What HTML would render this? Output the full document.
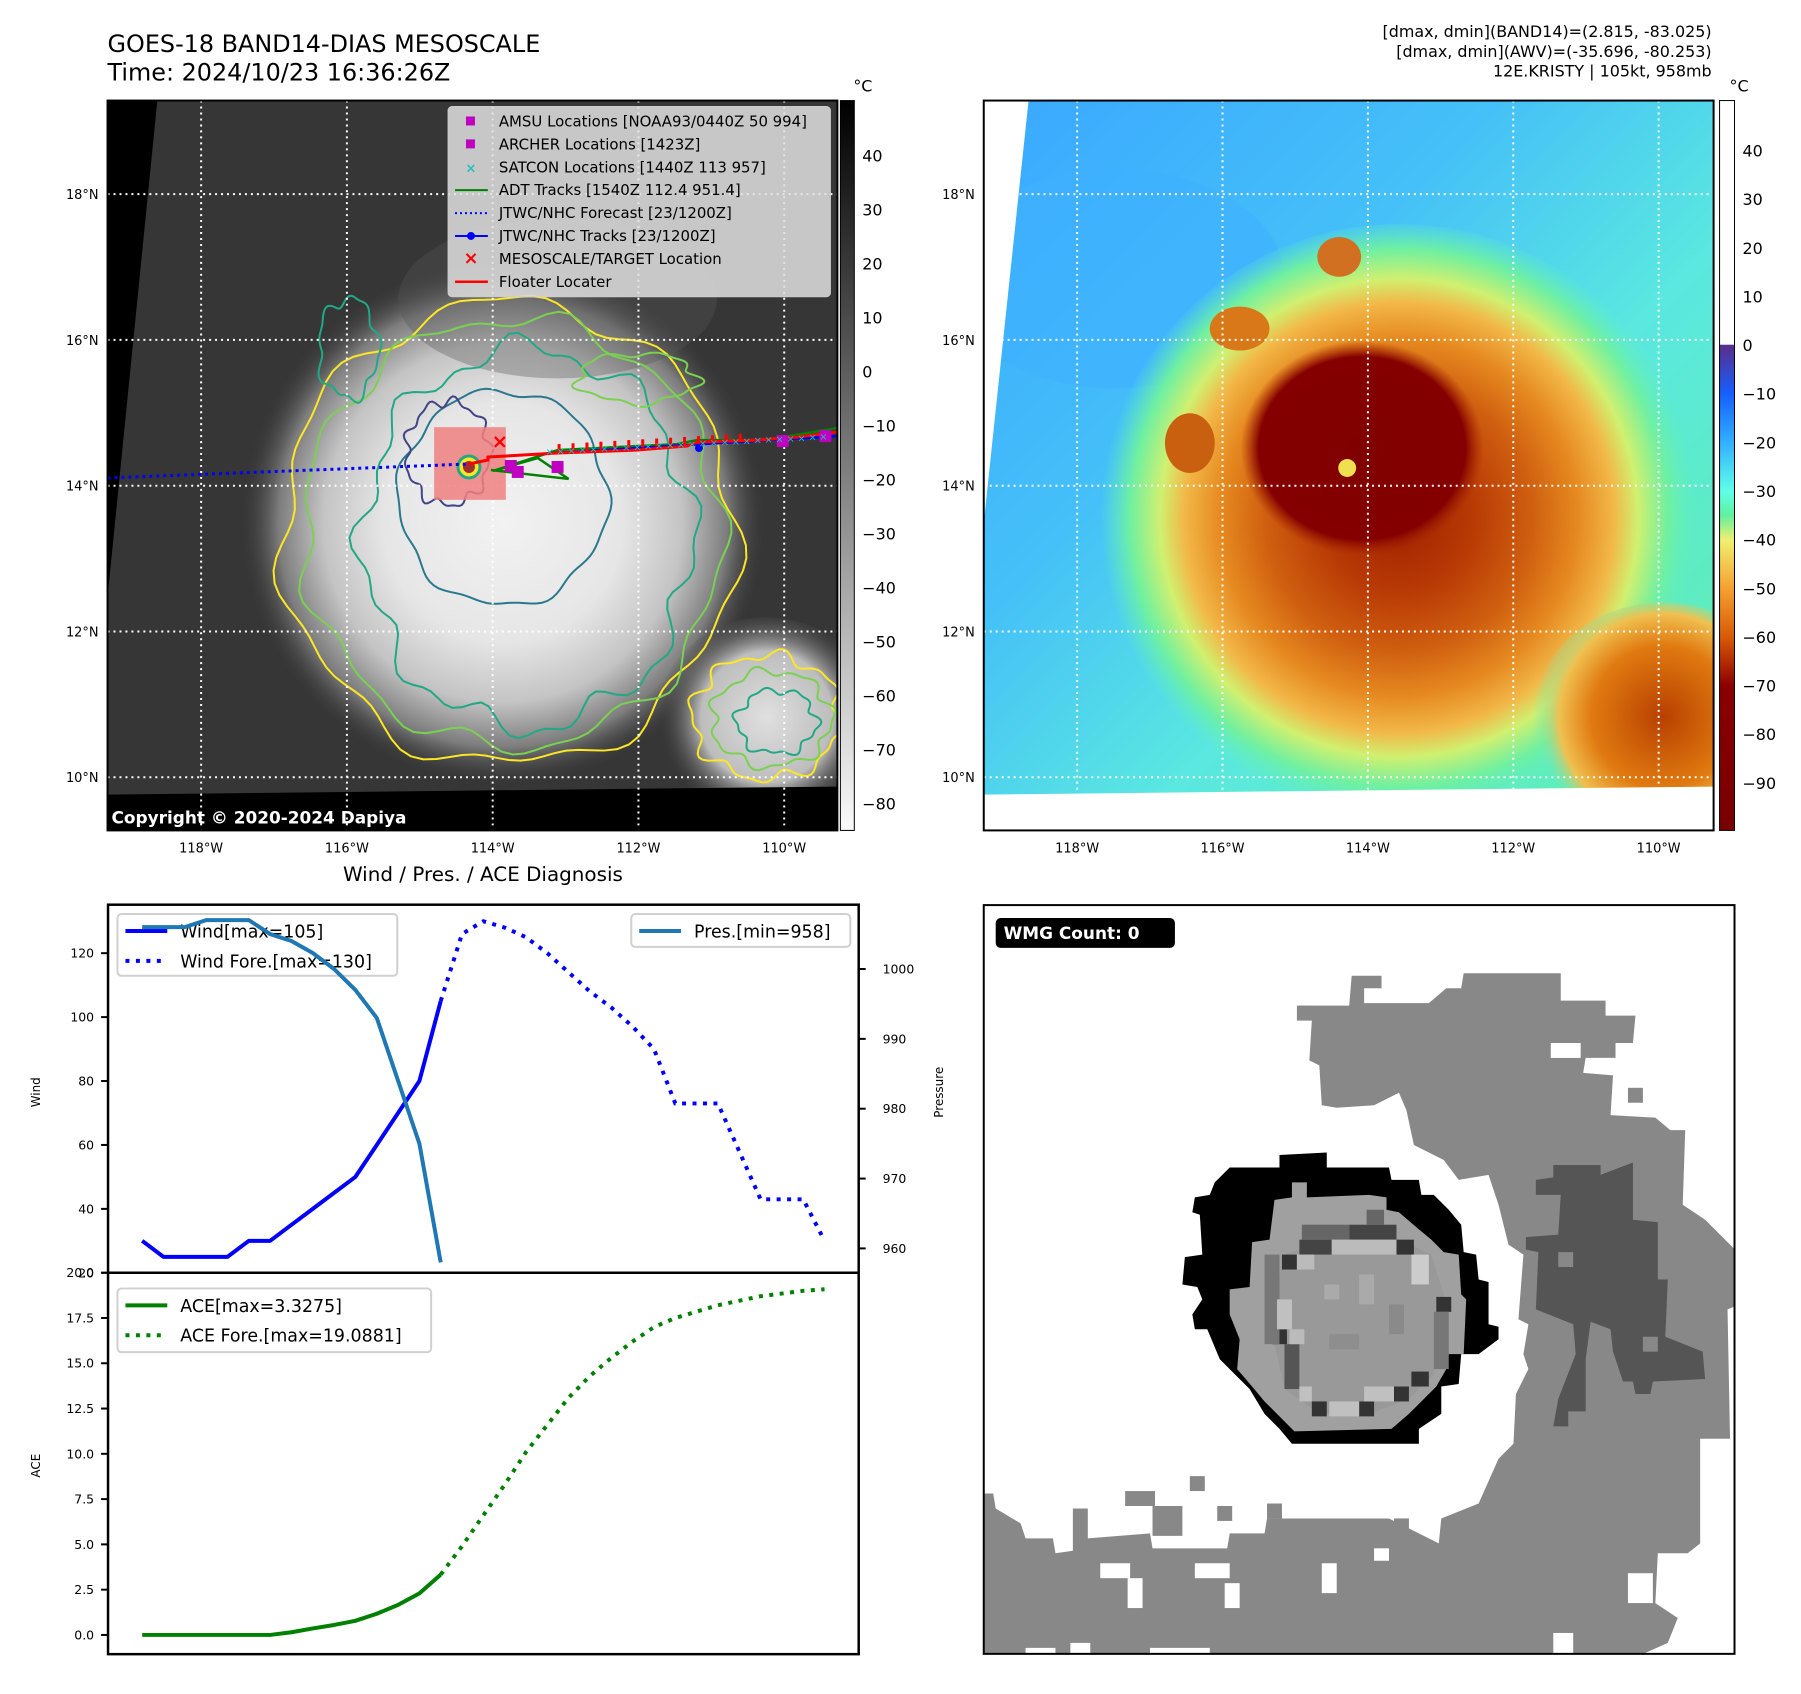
<!DOCTYPE html>
<html><head><meta charset="utf-8">
<style>
html,body{margin:0;padding:0;background:#fff;}
body{width:1801px;height:1690px;overflow:hidden;font-family:"DejaVu Sans","Liberation Sans",sans-serif;}
svg text{font-family:"DejaVu Sans","Liberation Sans",sans-serif;}
</style></head>
<body>
<svg id="fig" width="1801" height="1690" viewBox="0 0 1801 1690" xmlns="http://www.w3.org/2000/svg">
<defs>
  <clipPath id="clipL"><rect x="108" y="101" width="733" height="733"/></clipPath>
  <clipPath id="clipR"><rect x="988" y="101" width="733" height="733"/></clipPath>
  <clipPath id="clipW"><rect x="988" y="909" width="754" height="752"/></clipPath>
  <radialGradient id="gStorm" cx="505" cy="525" r="265" gradientUnits="userSpaceOnUse">
    <stop offset="0" stop-color="#f2f2f2"/><stop offset="0.45" stop-color="#e6e6e6"/>
    <stop offset="0.68" stop-color="#c4c4c4"/><stop offset="0.85" stop-color="#7d7d7d"/>
    <stop offset="1" stop-color="#363636" stop-opacity="0"/>
  </radialGradient>
  <radialGradient id="gBlobL" cx="770" cy="720" r="110" gradientUnits="userSpaceOnUse">
    <stop offset="0" stop-color="#e0e0e0"/><stop offset="0.6" stop-color="#bdbdbd"/>
    <stop offset="1" stop-color="#363636" stop-opacity="0"/>
  </radialGradient>
  <linearGradient id="gBgR" x1="0" y1="0" x2="1" y2="1">
    <stop offset="0" stop-color="#3aa8ff"/><stop offset="0.35" stop-color="#45c0f8"/>
    <stop offset="0.6" stop-color="#5ae8e0"/><stop offset="1" stop-color="#60f0a8"/>
  </linearGradient>
  <radialGradient id="gStormR" cx="1405" cy="520" r="300" gradientUnits="userSpaceOnUse">
    <stop offset="0" stop-color="#a02000"/><stop offset="0.25" stop-color="#b83a05"/>
    <stop offset="0.45" stop-color="#d06010"/><stop offset="0.6" stop-color="#e68a20"/>
    <stop offset="0.72" stop-color="#f2b848"/><stop offset="0.8" stop-color="#d0f070"/>
    <stop offset="0.9" stop-color="#70f0a0"/><stop offset="1" stop-color="#60f0c0" stop-opacity="0"/>
  </radialGradient>
  <radialGradient id="gCoreR" cx="0.5" cy="0.5" r="0.5">
    <stop offset="0" stop-color="#800000"/><stop offset="0.85" stop-color="#840000"/>
    <stop offset="1" stop-color="#a02000" stop-opacity="0"/>
  </radialGradient>
  <radialGradient id="gBlobR" cx="1670" cy="720" r="130" gradientUnits="userSpaceOnUse">
    <stop offset="0" stop-color="#b84000"/><stop offset="0.55" stop-color="#e07a10"/>
    <stop offset="0.8" stop-color="#f0c050"/><stop offset="1" stop-color="#60f0c0" stop-opacity="0"/>
  </radialGradient>
  <linearGradient id="cbL" x1="0" y1="0" x2="0" y2="1">
    <stop offset="0" stop-color="#000"/><stop offset="1" stop-color="#fafafa"/>
  </linearGradient>
  <linearGradient id="cbR" x1="0" y1="0" x2="0" y2="1">
    <stop offset="0" stop-color="#fff"/><stop offset="0.334" stop-color="#fff"/>
    <stop offset="0.335" stop-color="#5a2d8a"/><stop offset="0.402" stop-color="#1560ff"/>
    <stop offset="0.469" stop-color="#33b0ff"/><stop offset="0.535" stop-color="#60ffe8"/>
    <stop offset="0.568" stop-color="#60f0a0"/><stop offset="0.602" stop-color="#f0f070"/>
    <stop offset="0.669" stop-color="#f5a030"/><stop offset="0.735" stop-color="#d85a08"/>
    <stop offset="0.802" stop-color="#8b0000"/><stop offset="1" stop-color="#780000"/>
  </linearGradient>
</defs>
<g transform="scale(0.9957)">
<!-- Titles -->
<text x="108" y="52" font-size="24">GOES-18 BAND14-DIAS MESOSCALE</text>
<text x="108" y="81" font-size="24">Time: 2024/10/23 16:36:26Z</text>
<g font-size="16" text-anchor="end">
  <text x="1719" y="37">[dmax, dmin](BAND14)=(2.815, -83.025)</text>
  <text x="1719" y="57">[dmax, dmin](AWV)=(-35.696, -80.253)</text>
  <text x="1719" y="77">12E.KRISTY | 105kt, 958mb</text>
</g>

<!-- LEFT MAP -->
<g id="mapL" clip-path="url(#clipL)">
  <rect x="108" y="101" width="733" height="733" fill="#363636"/>
  <ellipse cx="505" cy="525" rx="265" ry="265" fill="url(#gStorm)"/>
  <ellipse cx="770" cy="720" rx="110" ry="100" fill="url(#gBlobL)"/>
  <ellipse cx="560" cy="300" rx="160" ry="80" fill="#555" opacity="0.35"/>
  <g id="contoursL" fill="none" stroke-width="2"></g>
  <polygon points="108,101 158,101 108,600" fill="#000"/>
  <polygon points="108,798 841,790 841,834 108,834" fill="#000"/>
</g>
<g id="gridL"></g>
<g id="tracks"></g>
<text x="112" y="827" font-size="17" font-weight="bold" fill="#fff">Copyright © 2020-2024 Dapiya</text>
<rect x="108" y="101" width="733" height="733" fill="none" stroke="#000" stroke-width="2"/>

<!-- map legend -->
<g>
  <rect x="450" y="107" width="384" height="191" rx="4" fill="#e0e0e0" fill-opacity="0.85" stroke="#ccc"/>
  <g font-size="15" fill="#000">
    <rect x="468" y="117" width="9" height="9" fill="#c000c0"/><text x="501" y="127">AMSU Locations [NOAA93/0440Z 50 994]</text>
    <rect x="468" y="140" width="9" height="9" fill="#c000c0"/><text x="501" y="150">ARCHER Locations [1423Z]</text>
    <text x="473" y="173" font-size="13" fill="#20c0c0" text-anchor="middle" font-weight="bold">×</text><text x="501" y="173">SATCON Locations [1440Z 113 957]</text>
    <line x1="457" y1="191" x2="490" y2="191" stroke="#008000" stroke-width="2"/><text x="501" y="196">ADT Tracks [1540Z 112.4 951.4]</text>
    <line x1="457" y1="214" x2="490" y2="214" stroke="#0000ff" stroke-width="2" stroke-dasharray="2,3"/><text x="501" y="219">JTWC/NHC Forecast [23/1200Z]</text>
    <line x1="457" y1="237" x2="490" y2="237" stroke="#0000ff" stroke-width="2"/><circle cx="473" cy="237" r="4" fill="#0000ff"/><text x="501" y="242">JTWC/NHC Tracks [23/1200Z]</text>
    <text x="473" y="265" font-size="18" fill="#ff0000" text-anchor="middle" font-weight="bold">×</text><text x="501" y="265">MESOSCALE/TARGET Location</text>
    <line x1="457" y1="283" x2="490" y2="283" stroke="#ff0000" stroke-width="2.5"/><text x="501" y="288">Floater Locater</text>
  </g>
</g>

<!-- left colorbar -->
<rect x="844" y="101" width="14" height="733" fill="url(#cbL)" stroke="#000" stroke-width="1"/>
<text x="857" y="92" font-size="16">°C</text>
<g id="cbLlabels" font-size="16"></g>

<!-- RIGHT MAP -->
<g clip-path="url(#clipR)">
  <rect x="988" y="101" width="733" height="733" fill="url(#gBgR)"/>
  <ellipse cx="1120" cy="280" rx="170" ry="110" fill="#3fb0ff" opacity="0.6"/>
  <ellipse cx="1405" cy="520" rx="300" ry="295" fill="url(#gStormR)"/>
  <ellipse cx="1368" cy="450" rx="122" ry="108" fill="url(#gCoreR)"/>
  <ellipse cx="1670" cy="720" rx="130" ry="115" fill="url(#gBlobR)"/>
  <ellipse cx="1345" cy="258" rx="22" ry="20" fill="#d07020"/>
  <ellipse cx="1245" cy="330" rx="30" ry="22" fill="#d87818"/>
  <ellipse cx="1195" cy="445" rx="25" ry="30" fill="#c86010"/>
  <circle cx="1353" cy="470" r="9" fill="#f0e050"/>
  <polygon points="988,101 1033,101 988,525" fill="#fff"/>
  <polygon points="988,798 1721,790 1721,834 988,834" fill="#fff"/>
</g>
<g id="gridR"></g>
<rect x="988" y="101" width="733" height="733" fill="none" stroke="#000" stroke-width="2"/>
<rect x="1727" y="101" width="15" height="733" fill="url(#cbR)" stroke="#000" stroke-width="1"/>
<text x="1737" y="92" font-size="16">°C</text>
<g id="cbRlabels" font-size="16"></g>
<g id="latlon" font-size="13"></g>

<!-- WIND / PRES / ACE CHART -->
<text x="485" y="885" font-size="20" text-anchor="middle">Wind / Pres. / ACE Diagnosis</text>
<g id="chart"></g>

<!-- WMG panel -->
<g clip-path="url(#clipW)">
  <rect x="988" y="909" width="754" height="752" fill="#fff"/>
  <g transform="translate(985,900) scale(0.5)">
    <polygon fill="#888" points="640,220 740,220 745,160 805,160 805,185 770,185 770,215 900,215 935,185 965,185 970,155 1165,155 1165,210 1255,210 1255,240 1315,240 1310,295 1275,295 1275,325 1215,325 1210,355 1270,360 1265,440 1355,445 1385,470 1415,470 1410,620 1455,650 1515,710 1525,820 1500,830 1505,1090 1445,1090 1445,1300 1420,1320 1360,1320 1355,1420 1400,1450 1380,1500 1290,1540 0,1540 0,1200 25,1200 30,1230 80,1260 90,1290 145,1290 150,1320 185,1315 185,1230 215,1230 215,1290 340,1280 345,1310 495,1310 500,1280 570,1280 575,1250 820,1250 920,1300 925,1250 1000,1220 1040,1130 1070,1100 1075,1000 1100,950 1090,920 1100,860 1080,850 1090,720 1060,700 1040,620 1020,560 960,570 930,530 870,500 855,430 840,395 790,420 715,425 685,420 680,340 660,330 665,250 640,245"/>
    <g fill="#fff">
      <rect x="240" y="1340" width="60" height="30"/><rect x="295" y="1370" width="30" height="60"/>
      <rect x="430" y="1340" width="70" height="30"/><rect x="490" y="1380" width="30" height="50"/>
      <rect x="685" y="1340" width="30" height="60"/><rect x="790" y="1310" width="30" height="25"/>
      <rect x="1150" y="1480" width="40" height="60"/><rect x="1300" y="1360" width="50" height="60"/>
      <rect x="1145" y="295" width="60" height="30"/><rect x="180" y="1500" width="40" height="40"/>
      <rect x="90" y="1510" width="60" height="30"/><rect x="340" y="1510" width="120" height="30"/>
    </g>
    <g fill="#888">
      <rect x="635" y="220" width="30" height="30"/><rect x="1300" y="385" width="30" height="30"/>
      <rect x="420" y="1165" width="30" height="30"/><rect x="475" y="1225" width="30" height="30"/>
      <rect x="575" y="1220" width="30" height="30"/><rect x="830" y="1250" width="30" height="30"/>
      <rect x="290" y="1195" width="60" height="30"/><rect x="345" y="1225" width="60" height="60"/>
    </g>
    <polygon fill="#555" points="1150,540 1245,540 1245,560 1310,535 1310,650 1360,655 1360,770 1380,770 1375,885 1450,915 1455,970 1350,975 1345,1000 1315,1000 1310,975 1290,975 1270,915 1265,870 1225,855 1215,930 1215,1035 1180,1035 1180,1065 1150,1065 1160,1010 1195,920 1190,860 1115,830 1120,715 1095,710 1095,685 1160,680 1165,600 1115,600 1115,570 1150,565"/>
    <rect x="1160" y="715" width="30" height="30" fill="#888"/><rect x="1330" y="885" width="30" height="30" fill="#888"/>
    <polygon fill="#000" points="600,520 695,515 695,545 820,545 825,570 880,570 885,600 910,600 940,630 965,660 970,715 995,720 1000,770 1020,775 1020,860 1040,865 1040,890 1000,920 965,920 960,980 925,985 925,1040 880,1070 880,1100 625,1100 600,1070 570,1040 540,990 510,960 480,930 455,870 430,870 425,840 445,810 435,785 405,780 410,725 445,720 440,640 425,635 430,605 460,600 470,575 500,545 600,545"/>
    <polygon fill="#a0a0a0" points="625,575 655,575 655,605 780,600 815,605 815,630 840,635 875,665 905,690 930,715 960,720 965,800 975,810 970,920 940,920 935,950 915,985 890,1010 860,1040 825,1070 630,1075 600,1045 570,1015 545,985 515,950 520,890 500,840 500,790 540,785 545,695 580,690 590,610 625,605"/>
    <polygon fill="#999" points="610,720 700,690 840,690 905,720 930,800 910,960 860,1010 780,1040 680,1040 610,990 590,900 595,780"/>
    <g>
      <rect x="640" y="690" width="65" height="30" fill="#444"/><rect x="740" y="660" width="95" height="30" fill="#444"/>
      <rect x="605" y="720" width="30" height="30" fill="#333"/><rect x="585" y="870" width="30" height="30" fill="#333"/>
      <rect x="610" y="900" width="30" height="90" fill="#555"/><rect x="665" y="1015" width="30" height="30" fill="#333"/>
      <rect x="760" y="1015" width="30" height="30" fill="#333"/><rect x="830" y="985" width="30" height="30" fill="#333"/>
      <rect x="865" y="955" width="35" height="30" fill="#333"/><rect x="915" y="805" width="30" height="30" fill="#333"/>
      <rect x="835" y="690" width="35" height="30" fill="#333"/><rect x="775" y="630" width="35" height="30" fill="#666"/>
      <rect x="645" y="660" width="95" height="30" fill="#666"/><rect x="570" y="720" width="30" height="180" fill="#777"/>
      <rect x="910" y="835" width="30" height="115" fill="#777"/>
      <rect x="635" y="720" width="35" height="30" fill="#bbb"/><rect x="705" y="690" width="130" height="30" fill="#bbb"/>
      <rect x="865" y="720" width="35" height="60" fill="#ccc"/><rect x="595" y="810" width="30" height="60" fill="#c0c0c0"/>
      <rect x="640" y="985" width="25" height="30" fill="#c0c0c0"/><rect x="700" y="1015" width="60" height="30" fill="#c0c0c0"/>
      <rect x="770" y="985" width="60" height="30" fill="#c0c0c0"/><rect x="620" y="870" width="30" height="30" fill="#bbb"/>
      <rect x="690" y="780" width="30" height="30" fill="#aaa"/><rect x="760" y="760" width="30" height="60" fill="#aaa"/>
      <rect x="820" y="820" width="30" height="60" fill="#8a8a8a"/><rect x="700" y="880" width="60" height="30" fill="#8e8e8e"/>
    </g>
  </g>
</g>
<rect x="988" y="909" width="754" height="752" fill="none" stroke="#000" stroke-width="2"/>
<rect x="1000" y="922" width="180" height="30" rx="5" fill="#000"/>
<text x="1008" y="943" font-size="17" font-weight="bold" fill="#fff">WMG Count: 0</text>
</g>
</svg>

<script>
// ---- chart data ----
const windX = [0,1,2,3,4,5,6,7,8,9,10,11,12,13,14];
const windV = [30,25,25,25,25,30,30,35,40,45,50,60,70,80,105];
const windFX = [14,15,16,17,18,19,20,21,22,23,24,25,27,29,31,32];
const windFV = [105,126,130,128,125,120,114,108,103,97,90,73,73,43,43,30];
const presX = [0,1,2,3,4,5,6,7,8,9,10,11,12,13,14];
const presV = [1006,1006,1006,1007,1007,1007,1005,1004,1002.3,1000,997,993,984,975,958];
const aceX = [0,1,2,3,4,5,6,7,8,9,10,11,12,13,14];
const aceV = [0,0,0,0,0,0,0,0.15,0.36,0.55,0.78,1.17,1.66,2.3,3.33];
const aceFX = [14,15,16,17,18,19,20,21,22,23,24,25,27,29,31,32];
const aceFV = [3.33,4.9,6.6,8.3,10.1,11.6,13.1,14.3,15.3,16.2,17.0,17.5,18.2,18.7,19.0,19.09];
const windTicks = [20,40,60,80,100,120];
const presTicks = [960,970,980,990,1000];
const aceTicks = [0.0,2.5,5.0,7.5,10.0,12.5,15.0,17.5,20.0];
const cbLTicks = [40,30,20,10,0,-10,-20,-30,-40,-50,-60,-70,-80];
const cbRTicks = [40,30,20,10,0,-10,-20,-30,-40,-50,-60,-70,-80,-90];
const lonTicks = [118,116,114,112,110];
const latTicks = [18,16,14,12,10];

const NS = 'http://www.w3.org/2000/svg';
function mk(tag, attrs, parent){ const e=document.createElementNS(NS,tag); for(const k in attrs) e.setAttribute(k,attrs[k]); if(parent) parent.appendChild(e); return e; }
function txt(parent, x, y, s, attrs){ const t=mk('text',Object.assign({x:x,y:y},attrs||{}),parent); t.textContent=s; return t; }

const AX = {l:108.5, r:862.4, t:908.6, mid:1278.3, b:1661.3};
const xs = v => AX.l + (v + 1.6) * (AX.r - AX.l) / 35.2;
const yWind = v => AX.mid - (v - 20) * 3.21;
const yPres = v => 973.2 - (v - 1000) * 7.015;
const yAce = v => 1642 - v * 18.19;
function pts(X, V, fy){ return X.map((x,i)=> xs(x).toFixed(1)+','+fy(V[i]).toFixed(1)).join(' '); }

const chart = document.getElementById('chart');
const clipTop = mk('clipPath',{id:'clipTop'},chart); mk('rect',{x:AX.l,y:AX.t,width:AX.r-AX.l,height:AX.mid-AX.t},clipTop);
const clipBot = mk('clipPath',{id:'clipBot'},chart); mk('rect',{x:AX.l,y:AX.mid,width:AX.r-AX.l,height:AX.b-AX.mid},clipBot);
const gTop = mk('g',{'clip-path':'url(#clipTop)'},chart);
const gBot = mk('g',{'clip-path':'url(#clipBot)'},chart);

let el;
el = mk('polyline',{points:pts(windX,windV,yWind),fill:'none',stroke:'#0000ff','stroke-width':4,'stroke-linejoin':'round'},gTop);


el = mk('polyline',{points:pts(windFX,windFV,yWind),fill:'none',stroke:'#0000ff','stroke-width':4,'stroke-dasharray':'4,6.5'},gTop);


el = mk('polyline',{points:pts(aceX,aceV,yAce),fill:'none',stroke:'#008000','stroke-width':4,'stroke-linejoin':'round'},gBot);


el = mk('polyline',{points:pts(aceFX,aceFV,yAce),fill:'none',stroke:'#008000','stroke-width':4,'stroke-dasharray':'4,6.5'},gBot);



mk('rect',{x:AX.l,y:AX.t,width:AX.r-AX.l,height:AX.b-AX.t,fill:'none',stroke:'#000','stroke-width':2.5},chart);
mk('line',{x1:AX.l,x2:AX.r,y1:AX.mid,y2:AX.mid,stroke:'#000','stroke-width':2.5},chart);
windTicks.forEach(v=>{ const y=yWind(v); mk('line',{x1:AX.l-7,x2:AX.l,y1:y,y2:y,stroke:'#000','stroke-width':2},chart);
  el = txt(chart,AX.l-14,y+4.5,String(v),{'font-size':12.5,'text-anchor':'end'});
  
   });
presTicks.forEach(v=>{ const y=yPres(v); mk('line',{x1:AX.r,x2:AX.r+7,y1:y,y2:y,stroke:'#000','stroke-width':2},chart);
  el = txt(chart,AX.r+24,y+4.5,String(v),{'font-size':12.5});
  
   });
aceTicks.forEach(v=>{ const y=yAce(v); mk('line',{x1:AX.l-7,x2:AX.l,y1:y,y2:y,stroke:'#000','stroke-width':2},chart);
  el = txt(chart,AX.l-14,y+4.5,v.toFixed(1),{'font-size':12.5,'text-anchor':'end'});
  
   });
el = txt(chart,0,0,'Wind',{'font-size':12,'text-anchor':'middle',transform:'translate(40,1097) rotate(-90)'});
 
el = txt(chart,0,0,'Pressure',{'font-size':12,'text-anchor':'middle',transform:'translate(947,1097) rotate(-90)'});
 
el = txt(chart,0,0,'ACE',{'font-size':12,'text-anchor':'middle',transform:'translate(40,1472) rotate(-90)'});
 

function legend(x,y,w,h,items,name){
  const g = mk('g',{},chart);
  
  
  mk('rect',{x:x,y:y,width:w,height:h,rx:4,fill:'#fff','fill-opacity':0.8,stroke:'#d0d0d0','stroke-width':2},g);
  items.forEach((it,i)=>{ const cy=y+17+i*30;
    mk('line',{x1:x+8,x2:x+50,y1:cy,y2:cy,stroke:it.c,'stroke-width':4,'stroke-dasharray':it.d?'4,6.5':'none'},g);
    txt(g,x+63,cy+6.5,it.t,{'font-size':17.5}); });
}
legend(118,918,281,62,[{c:'#0000ff',t:'Wind[max=105]'},{c:'#0000ff',d:1,t:'Wind Fore.[max=130]'}],'wind-legend');
legend(634,918,220,33,[{c:'#1f77b4',t:'Pres.[min=958]'}],'pressure-legend');
legend(118,1294,315,64,[{c:'#008000',t:'ACE[max=3.3275]'},{c:'#008000',d:1,t:'ACE Fore.[max=19.0881]'}],'ace-legend');
el = mk('polyline',{points:pts(presX,presV,yPres),fill:'none',stroke:'#1f77b4','stroke-width':4,'stroke-linejoin':'round','clip-path':'url(#clipTop)'},chart);



const lonL = lw => 202 + (118 - lw) * 73.2;
const lonR = lw => 1081.8 + (118 - lw) * 73.0;
const latY = la => 195 + (18 - la) * 73.2;
function grid(gid, fx, left){
  const g=document.getElementById(gid);
  lonTicks.forEach(l=>mk('line',{x1:fx(l),x2:fx(l),y1:101,y2:834,stroke:'#fff','stroke-width':2,'stroke-dasharray':'2,4'},g));
  latTicks.forEach(l=>mk('line',{x1:left,x2:left+733,y1:latY(l),y2:latY(l),stroke:'#fff','stroke-width':2,'stroke-dasharray':'2,4'},g));
}
grid('gridL',lonL,108); grid('gridR',lonR,988);
const ll=document.getElementById('latlon');
lonTicks.forEach(l=>{ txt(ll,lonL(l),856,l+'°W',{'text-anchor':'middle'}); txt(ll,lonR(l),856,l+'°W',{'text-anchor':'middle'}); });
latTicks.forEach(l=>{ txt(ll,99,latY(l)+5,l+'°N',{'text-anchor':'end'}); txt(ll,979,latY(l)+5,l+'°N',{'text-anchor':'end'}); });
const cbl=document.getElementById('cbLlabels');
cbLTicks.forEach(v=>{ txt(cbl,866,156 + (40-v)*5.426 + 6,(v<0?'\u2212'+(-v):String(v))); });
const cbr=document.getElementById('cbRlabels');
cbRTicks.forEach(v=>{ txt(cbr,1750,151.2 + (40-v)*4.885 + 6,(v<0?'\u2212'+(-v):String(v))); });

function ring(cx,cy,rx,ry,amp,k1,k2,ph){
  let d='';
  for(let i=0;i<=120;i++){ const a=i/120*Math.PI*2;
    const f=1+amp*(Math.sin(k1*a+ph)*0.6+Math.sin(k2*a+ph*2.3)*0.4);
    const x=cx+rx*f*Math.cos(a), y=cy+ry*f*Math.sin(a);
    d+=(i?'L':'M')+x.toFixed(1)+','+y.toFixed(1); }
  return d+'Z';
}
const cg=document.getElementById('contoursL');
[[511,535,228,232,0.06,7,13,0.3,'#fde725'],[515,535,210,215,0.06,9,15,1.1,'#7ad151'],
 [530,540,165,190,0.09,8,17,2.0,'#22a884'],[505,500,105,108,0.05,6,11,0.7,'#2a788e'],
 [450,455,42,52,0.12,9,14,1.5,'#414487'],[770,720,75,62,0.12,8,13,0.2,'#fde725'],
 [775,722,60,48,0.12,7,12,1.9,'#7ad151'],[780,725,40,32,0.15,6,11,0.9,'#22a884'],
 [640,380,60,25,0.15,5,9,0.4,'#7ad151'],[350,350,30,50,0.15,5,9,1.4,'#22a884']].forEach(c=>{
  mk('path',{d:ring(c[0],c[1],c[2],c[3],c[4],c[5],c[6],c[7]),stroke:c[8]},cg);
});

const tr=document.getElementById('tracks');
mk('rect',{x:436,y:429,width:72,height:73,fill:'#f08080','fill-opacity':0.85},tr);
mk('circle',{cx:471,cy:469,r:11,fill:'#fde725',stroke:'#22a884','stroke-width':3},tr);
mk('circle',{cx:471,cy:469,r:6,fill:'#a03030'},tr);
mk('line',{x1:108,y1:480,x2:471,y2:466,stroke:'#0000ff','stroke-width':3,'stroke-dasharray':'3,4'},tr);
mk('polyline',{points:'493,472 571,481 540,460 495,473 560,452 680,446 700,442 758,442 780,440 840,430',fill:'none',stroke:'#008000','stroke-width':2.5},tr);
mk('line',{x1:555,y1:455,x2:840,y2:438,stroke:'#0000ff','stroke-width':2.5},tr);
mk('circle',{cx:702,cy:450,r:4,fill:'#0000ff'},tr);
mk('polyline',{points:'471,466 490,462 490,459 560,455 640,452 690,448 700,444 760,442 800,439 840,434',fill:'none',stroke:'#ff0000','stroke-width':3},tr);
for(let i=0;i<14;i++){ mk('rect',{x:560+i*14,y:446-i*0.8,width:3,height:8,fill:'#ff0000'},tr); }
[[513,468],[520,474],[560,469],[786,443],[829,438]].forEach(p=>mk('rect',{x:p[0]-6,y:p[1]-6,width:12,height:12,fill:'#c000c0'},tr));
for(let i=0;i<26;i++){ txt(tr,552+i*11,457-i*0.6,'×',{'font-size':10,fill:'#20c0c0','text-anchor':'middle'}); }
txt(tr,502,450,'×',{'font-size':20,fill:'#ff0000','text-anchor':'middle','font-weight':'bold'});
</script>
</body></html>
